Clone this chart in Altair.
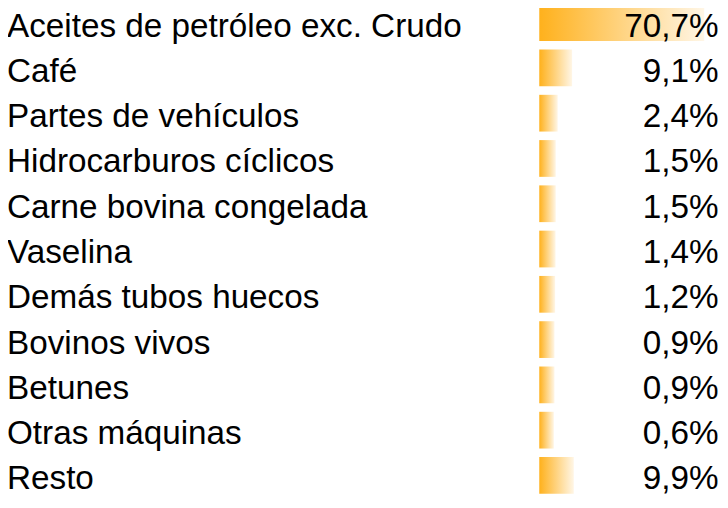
import altair as alt
import pandas as pd

categories = [
    "Aceites de petróleo exc. Crudo",
    "Café",
    "Partes de vehículos",
    "Hidrocarburos cíclicos",
    "Carne bovina congelada",
    "Vaselina",
    "Demás tubos huecos",
    "Bovinos vivos",
    "Betunes",
    "Otras máquinas",
    "Resto",
]
values = [70.7, 9.1, 2.4, 1.5, 1.5, 1.4, 1.2, 0.9, 0.9, 0.6, 9.9]

df = pd.DataFrame({"cat": categories, "v": values})

FONT = "Liberation Sans"
FS = 33.5

yenc = alt.Y(
    "cat:N",
    sort=categories,
    axis=None,
    scale=alt.Scale(range=[-9.8, 491.8], paddingInner=0.1886, paddingOuter=0.0943),
)

base = alt.Chart(df).transform_calculate(
    lbl="replace(format(datum.v, '.1f'), '.', ',') + '%'"
)

grad = alt.Gradient(
    gradient="linear",
    stops=[
        alt.GradientStop(color="#FFB11C", offset=0),
        alt.GradientStop(color="#FFF6E6", offset=1),
    ],
    x1=0, x2=1, y1=0, y2=0,
)

bars = base.mark_bar(color=grad).encode(
    y=yenc,
    x=alt.X("v:Q", axis=None,
            scale=alt.Scale(domain=[-6.2, 72], range=[535, 703.9], zero=False, nice=False)),
    x2=alt.datum(-6.2),
)

labels = base.mark_text(
    align="left", baseline="alphabetic", dy=14, font=FONT, fontSize=FS, color="#000000"
).encode(
    y=yenc,
    x=alt.value(-1),
    text="cat:N",
)

pct = base.mark_text(
    align="right", baseline="alphabetic", dy=14, font=FONT, fontSize=FS, color="#000000"
).encode(
    y=yenc,
    x=alt.value(715.5),
    text="lbl:N",
)

chart = (
    alt.layer(bars, labels, pct)
    .properties(width=717, height=492, padding=0, autosize="none")
    .configure_view(stroke=None)
)

chart.save("out.html", embed_options={"renderer": "svg", "actions": False})
